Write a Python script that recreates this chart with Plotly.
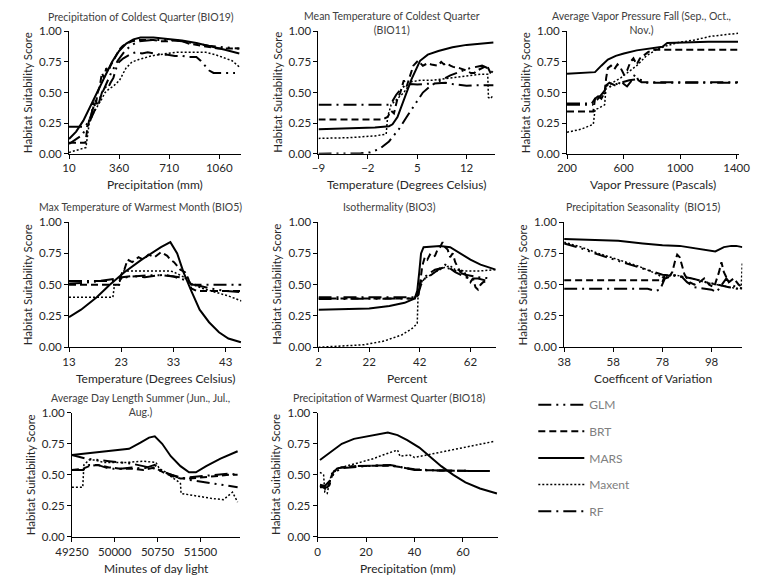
import plotly.graph_objects as go

# ---- data (habitat suitability response curves) ----
models = ["GLM", "BRT", "MARS", "Maxent", "RF"]

# Precipitation of Coldest Quarter (BIO19)
bio19_glm_x = [10, 100, 150, 200, 250, 300, 350, 400, 450, 500, 600, 700, 800, 900, 1000, 1100, 1200]
bio19_glm_y = [0.08, 0.15, 0.25, 0.38, 0.52, 0.65, 0.76, 0.84, 0.89, 0.92, 0.93, 0.93, 0.92, 0.90, 0.88, 0.87, 0.86]
bio19_brt_x = [10, 125, 135, 150, 165, 180, 195, 210, 225, 240, 255, 270, 285, 300, 320, 340, 360, 385, 410,
               450, 500, 550, 600, 650, 700, 750, 800, 850, 900, 950, 1000, 1050, 1100, 1150, 1200]
bio19_brt_y = [0.09, 0.09, 0.18, 0.27, 0.30, 0.42, 0.38, 0.50, 0.55, 0.66, 0.62, 0.70, 0.67, 0.72, 0.76, 0.80, 0.85,
               0.88, 0.90, 0.92, 0.93, 0.93, 0.93, 0.92, 0.92, 0.93, 0.92, 0.90, 0.89, 0.88, 0.87, 0.86, 0.86, 0.86, 0.86]
bio19_mars_x = [10, 60, 110, 160, 210, 260, 310, 360, 410, 460, 510, 600, 700, 800, 900, 1000, 1100, 1200]
bio19_mars_y = [0.12, 0.18, 0.27, 0.39, 0.52, 0.64, 0.75, 0.84, 0.90, 0.935, 0.95, 0.95, 0.94, 0.925, 0.905, 0.88, 0.85, 0.82]
bio19_maxent_x = [10, 70, 128, 140, 151, 180, 218, 240, 262, 290, 318, 363, 408, 450, 497, 586, 698, 765, 854, 899,
                  966, 1033, 1100, 1150, 1200]
bio19_maxent_y = [0.01, 0.03, 0.05, 0.15, 0.25, 0.33, 0.40, 0.45, 0.50, 0.53, 0.55, 0.60, 0.70, 0.75, 0.77, 0.80,
                  0.82, 0.83, 0.83, 0.83, 0.83, 0.81, 0.78, 0.76, 0.71]
bio19_rf_x = [10, 120, 140, 160, 180, 200, 220, 240, 260, 280, 300, 320, 340, 360, 390, 420, 450, 480, 520, 560,
              600, 650, 700, 750, 800, 850, 900, 930, 960, 990, 1020, 1060, 1100, 1170]
bio19_rf_y = [0.22, 0.22, 0.25, 0.30, 0.38, 0.45, 0.42, 0.50, 0.55, 0.53, 0.58, 0.62, 0.70, 0.75, 0.78, 0.80, 0.82,
              0.83, 0.82, 0.83, 0.82, 0.81, 0.81, 0.80, 0.80, 0.79, 0.79, 0.76, 0.72, 0.68, 0.66, 0.66, 0.66, 0.66]

# Mean Temperature of Coldest Quarter (BIO11)
bio11_glm_x = [-9, -5, -3, -1.7, -0.3, 1.0, 2.4, 3.5, 4.7, 5.8, 7.0, 8.3, 9.7, 11.0, 12.5, 14.2, 15.0, 15.8]
bio11_glm_y = [0.0, 0.0, 0.003, 0.01, 0.04, 0.10, 0.20, 0.30, 0.40, 0.50, 0.56, 0.60, 0.64, 0.67, 0.70, 0.72, 0.70, 0.66]
bio11_brt_x = [-9, 0.1, 0.8, 1.3, 1.7, 2.2, 2.6, 3.1, 3.5, 4.0, 4.45, 5.1, 5.8, 6.5, 7.0, 7.9, 8.4, 8.8, 9.2, 9.7,
               10.1, 11.0, 12.0, 12.6, 13.1, 13.5, 14.2, 14.9, 15.4, 15.8]
bio11_brt_y = [0.28, 0.28, 0.30, 0.35, 0.33, 0.45, 0.50, 0.60, 0.55, 0.65, 0.72, 0.76, 0.72, 0.74, 0.73, 0.72, 0.75,
               0.73, 0.74, 0.72, 0.71, 0.70, 0.68, 0.66, 0.66, 0.68, 0.70, 0.72, 0.66, 0.63]
bio11_mars_x = [-9, -5, -1, 1, 1.5, 2.2, 3.1, 4.2, 5.4, 6.5, 8, 10, 12, 14, 15.8]
bio11_mars_y = [0.20, 0.205, 0.215, 0.225, 0.24, 0.30, 0.44, 0.61, 0.76, 0.81, 0.84, 0.87, 0.89, 0.90, 0.91]
bio11_maxent_x = [-9, -5, -1, 0.6, 0.8, 1.3, 2.2, 3.1, 4.2, 5.5, 7.0, 8.5, 9.7, 11.0, 12.5, 14.0, 15.0, 15.1, 15.4, 15.8]
bio11_maxent_y = [0.125, 0.13, 0.145, 0.16, 0.30, 0.40, 0.45, 0.50, 0.59, 0.60, 0.60, 0.61, 0.62, 0.63, 0.64, 0.65,
                  0.65, 0.46, 0.45, 0.48]
bio11_rf_x = [-9, 1.0, 1.5, 2.0, 2.7, 3.3, 4.0, 5.0, 6.0, 7.0, 8.0, 9.0, 10.0, 11.0, 12.0, 13.0, 14.0, 15.8]
bio11_rf_y = [0.40, 0.40, 0.43, 0.48, 0.53, 0.56, 0.57, 0.565, 0.57, 0.575, 0.58, 0.58, 0.57, 0.56, 0.555, 0.56, 0.56, 0.56]

# Average Vapor Pressure Fall
vap_glm_x = [200, 380, 420, 470, 520, 580, 640, 700, 730, 760, 1410]
vap_glm_y = [0.40, 0.40, 0.45, 0.52, 0.56, 0.58, 0.60, 0.61, 0.60, 0.58, 0.58]
vap_brt_x = [200, 386, 398, 420, 443, 466, 477, 489, 511, 534, 557, 580, 602, 625, 648, 670, 693, 716, 739, 773, 807, 1410]
vap_brt_y = [0.345, 0.345, 0.45, 0.47, 0.45, 0.50, 0.62, 0.70, 0.72, 0.69, 0.73, 0.70, 0.65, 0.68, 0.75, 0.78, 0.73,
             0.78, 0.80, 0.83, 0.85, 0.85]
vap_mars_x = [200, 300, 398, 443, 489, 545, 602, 693, 784, 864, 875, 909, 1034, 1200, 1410]
vap_mars_y = [0.653, 0.66, 0.667, 0.72, 0.77, 0.80, 0.82, 0.845, 0.86, 0.87, 0.875, 0.905, 0.91, 0.915, 0.915]
vap_maxent_x = [200, 300, 386, 398, 420, 466, 477, 523, 580, 625, 693, 761, 830, 898, 989, 1102, 1216, 1330, 1410]
vap_maxent_y = [0.175, 0.20, 0.24, 0.36, 0.37, 0.40, 0.55, 0.58, 0.62, 0.66, 0.72, 0.80, 0.85, 0.88, 0.91, 0.93,
                0.96, 0.975, 0.985]
vap_rf_x = [200, 375, 398, 420, 455, 477, 500, 534, 557, 580, 602, 625, 659, 682, 705, 727, 1410]
vap_rf_y = [0.41, 0.41, 0.45, 0.47, 0.46, 0.56, 0.58, 0.56, 0.55, 0.60, 0.57, 0.55, 0.60, 0.65, 0.60, 0.585, 0.585]

# Max Temperature of Warmest Month (BIO5)
bio5_glm_x = [13, 16, 19, 22, 25, 28, 31, 33, 35, 37, 40, 43, 46]
bio5_glm_y = [0.51, 0.515, 0.53, 0.55, 0.565, 0.575, 0.575, 0.565, 0.54, 0.50, 0.47, 0.45, 0.44]
bio5_brt_x = [13, 22.6, 23.0, 23.6, 24.2, 25.1, 26.3, 27.2, 28.2, 29.4, 30.6, 31.8, 32.4, 33.1, 34.3, 35.2, 35.8,
              36.4, 37.4, 46]
bio5_brt_y = [0.50, 0.50, 0.58, 0.62, 0.70, 0.68, 0.72, 0.70, 0.74, 0.72, 0.76, 0.73, 0.70, 0.68, 0.62, 0.60, 0.55,
              0.47, 0.45, 0.45]
bio5_mars_x = [13, 15.3, 18.3, 20.8, 23.6, 26.9, 30.6, 32.4, 33.7, 34.9, 36.4, 38.0, 39.8, 41.7, 43.5, 45.9]
bio5_mars_y = [0.24, 0.30, 0.40, 0.50, 0.60, 0.70, 0.80, 0.84, 0.75, 0.60, 0.45, 0.30, 0.20, 0.12, 0.07, 0.04]
bio5_maxent_x = [13, 21.4, 21.7, 22.6, 23.2, 32.4, 33.1, 35.5, 36.7, 38.6, 41.0, 43.5, 46]
bio5_maxent_y = [0.40, 0.40, 0.50, 0.50, 0.61, 0.61, 0.60, 0.55, 0.50, 0.47, 0.44, 0.41, 0.37]
bio5_rf_x = [13, 22.6, 23.2, 25.1, 27.5, 30.0, 31.2, 32.4, 33.7, 35.5, 36.4, 46]
bio5_rf_y = [0.53, 0.53, 0.56, 0.57, 0.56, 0.57, 0.58, 0.57, 0.56, 0.55, 0.50, 0.50]

# Isothermality (BIO3)
bio3_glm_x = [2, 20, 40, 41.5, 43, 45, 48, 52, 56, 60, 65, 70]
bio3_glm_y = [0.385, 0.385, 0.39, 0.45, 0.54, 0.58, 0.62, 0.64, 0.61, 0.58, 0.56, 0.55]
bio3_brt_x = [2, 40, 41.5, 42, 43, 44, 45, 46, 47, 48, 49, 50, 51, 52, 53, 54, 55, 56, 57, 58, 59, 60, 61, 62, 63,
              64, 65, 66, 67, 68.7]
bio3_brt_y = [0.39, 0.39, 0.42, 0.50, 0.65, 0.72, 0.70, 0.74, 0.72, 0.73, 0.78, 0.80, 0.84, 0.80, 0.78, 0.72, 0.75,
              0.68, 0.64, 0.60, 0.62, 0.58, 0.55, 0.52, 0.55, 0.48, 0.46, 0.50, 0.52, 0.53]
bio3_mars_x = [2, 12, 22, 30, 36, 40, 41, 41.8, 42.5, 43.5, 50, 54, 58, 62, 66, 72]
bio3_mars_y = [0.30, 0.305, 0.31, 0.33, 0.355, 0.39, 0.45, 0.60, 0.75, 0.80, 0.81, 0.80, 0.75, 0.70, 0.66, 0.62]
bio3_maxent_x = [2, 10, 20, 28, 35, 39, 41, 41.3, 42, 44, 48, 52, 54, 56, 60, 66, 72]
bio3_maxent_y = [0.0, 0.01, 0.02, 0.05, 0.10, 0.15, 0.19, 0.40, 0.50, 0.55, 0.60, 0.64, 0.65, 0.62, 0.61, 0.61, 0.62]
bio3_rf_x = [2, 41, 42.5, 44, 46, 48, 50, 52, 54, 56, 58, 60, 62, 65, 68.7]
bio3_rf_y = [0.40, 0.40, 0.50, 0.55, 0.57, 0.60, 0.63, 0.66, 0.63, 0.60, 0.58, 0.56, 0.55, 0.55, 0.53]

# Precipitation Seasonality (BIO15)
bio15_glm_x = [38, 45, 52, 60, 68, 74, 78, 84, 90, 96, 100, 105, 110.5]
bio15_glm_y = [0.83, 0.79, 0.74, 0.69, 0.64, 0.60, 0.58, 0.57, 0.55, 0.52, 0.50, 0.48, 0.46]
bio15_brt_x = [38, 77, 78, 79, 81, 82, 83, 84, 85, 86, 87, 89, 91, 93, 95, 97, 99, 101, 102, 103, 105, 107, 109, 110.5]
bio15_brt_y = [0.535, 0.535, 0.52, 0.58, 0.57, 0.60, 0.68, 0.74, 0.72, 0.65, 0.58, 0.52, 0.50, 0.52, 0.55, 0.50,
               0.48, 0.60, 0.68, 0.60, 0.52, 0.55, 0.50, 0.48]
bio15_mars_x = [38, 50, 60, 70, 78, 85, 92, 97, 99.5, 101, 103, 106, 108, 110.5]
bio15_mars_y = [0.865, 0.86, 0.85, 0.83, 0.815, 0.81, 0.79, 0.775, 0.765, 0.78, 0.80, 0.81, 0.81, 0.80]
bio15_maxent_x = [38, 45, 52, 60, 68, 74, 78, 80, 82, 85, 90, 95, 100, 105, 108, 110, 110.5]
bio15_maxent_y = [0.84, 0.80, 0.75, 0.70, 0.65, 0.60, 0.56, 0.57, 0.58, 0.57, 0.55, 0.52, 0.50, 0.48, 0.47, 0.47, 0.68]
bio15_rf_x = [38, 72, 75, 77, 79, 82, 84, 86, 88, 91, 94, 98, 100, 102, 104, 106, 108, 110.5]
bio15_rf_y = [0.467, 0.467, 0.45, 0.46, 0.55, 0.57, 0.58, 0.56, 0.52, 0.48, 0.47, 0.46, 0.44, 0.50, 0.55, 0.50, 0.48, 0.47]

# Average Day Length Summer
day_glm_x = [49250, 49500, 49900, 50300, 50700, 51000, 51300, 51700, 52150]
day_glm_y = [0.66, 0.63, 0.61, 0.59, 0.55, 0.50, 0.46, 0.43, 0.40]
day_brt_x = [49250, 49450, 49550, 49700, 49900, 50100, 50300, 50500, 50700, 50850, 51000, 51150, 51300, 51500,
             51800, 52000, 52150]
day_brt_y = [0.54, 0.55, 0.57, 0.58, 0.56, 0.55, 0.55, 0.54, 0.56, 0.52, 0.49, 0.47, 0.47, 0.48, 0.49, 0.50, 0.50]
day_mars_x = [49250, 49700, 50100, 50250, 50450, 50600, 50700, 50830, 50980, 51150, 51300, 51420, 51600, 51850, 52150]
day_mars_y = [0.66, 0.68, 0.70, 0.71, 0.76, 0.80, 0.81, 0.75, 0.65, 0.57, 0.52, 0.52, 0.57, 0.63, 0.69]
day_maxent_x = [49250, 49440, 49460, 49550, 49650, 49800, 50200, 50500, 50720, 50780, 50900, 51000, 51100, 51150,
                51160, 51400, 51700, 51900, 52060, 52150]
day_maxent_y = [0.40, 0.40, 0.58, 0.62, 0.62, 0.60, 0.60, 0.61, 0.60, 0.55, 0.52, 0.48, 0.45, 0.43, 0.35, 0.33,
                0.31, 0.30, 0.36, 0.28]
day_rf_x = [49250, 49450, 49550, 49700, 49900, 50100, 50300, 50500, 50700, 50850, 51000, 51150, 51300, 51500,
            51800, 52000, 52150]
day_rf_y = [0.54, 0.54, 0.58, 0.58, 0.55, 0.55, 0.56, 0.55, 0.58, 0.52, 0.50, 0.47, 0.48, 0.49, 0.50, 0.51, 0.50]

# Precipitation of Warmest Quarter (BIO18)
bio18_glm_x = [1, 3, 5, 7, 10, 15, 20, 25, 30, 35, 40, 50, 60, 71]
bio18_glm_y = [0.42, 0.41, 0.45, 0.52, 0.555, 0.565, 0.57, 0.575, 0.575, 0.56, 0.545, 0.535, 0.535, 0.53]
bio18_brt_x = [1, 2.5, 3.5, 4.5, 5.5, 6.5, 8, 10, 15, 20, 25, 30, 35, 40, 50, 60, 71]
bio18_brt_y = [0.41, 0.40, 0.38, 0.41, 0.48, 0.52, 0.55, 0.56, 0.57, 0.57, 0.57, 0.575, 0.56, 0.54, 0.535, 0.535, 0.53]
bio18_mars_x = [1, 5, 10, 15, 20, 25, 29, 33, 37, 42, 46, 51, 56, 61, 67, 74]
bio18_mars_y = [0.62, 0.68, 0.75, 0.79, 0.81, 0.83, 0.84, 0.82, 0.78, 0.72, 0.65, 0.57, 0.50, 0.44, 0.39, 0.35]
bio18_maxent_x = [1, 2.5, 3, 4, 5, 6, 8, 12, 18, 23, 27, 30, 33, 34, 38, 40, 45, 52, 60, 67, 73]
bio18_maxent_y = [0.52, 0.50, 0.36, 0.35, 0.45, 0.52, 0.55, 0.57, 0.60, 0.63, 0.66, 0.68, 0.70, 0.65, 0.66, 0.64,
                  0.66, 0.69, 0.72, 0.75, 0.77]
bio18_rf_x = [1, 4, 5, 6, 8, 10, 15, 20, 25, 30, 35, 40, 50, 60, 71]
bio18_rf_y = [0.40, 0.40, 0.42, 0.50, 0.55, 0.56, 0.57, 0.57, 0.575, 0.58, 0.56, 0.54, 0.535, 0.535, 0.53]

y_ticks = [0, 0.25, 0.5, 0.75, 1.0]

# panel: title lines, x title, x range, tick start/step, data
panels = [
    (["Precipitation of Coldest Quarter (BIO19)"], "Precipitation (mm)", (10, 1215), 10, 350,
     [(bio19_glm_x, bio19_glm_y), (bio19_brt_x, bio19_brt_y), (bio19_mars_x, bio19_mars_y),
      (bio19_maxent_x, bio19_maxent_y), (bio19_rf_x, bio19_rf_y)]),
    (["Mean Temperature of Coldest Quarter", "(BIO11)"], "Temperature (Degrees Celsius)", (-9, 16), -9, 7,
     [(bio11_glm_x, bio11_glm_y), (bio11_brt_x, bio11_brt_y), (bio11_mars_x, bio11_mars_y),
      (bio11_maxent_x, bio11_maxent_y), (bio11_rf_x, bio11_rf_y)]),
    (["Average Vapor Pressure Fall (Sep., Oct.,", "Nov.)"], "Vapor Pressure (Pascals)", (200, 1420), 200, 400,
     [(vap_glm_x, vap_glm_y), (vap_brt_x, vap_brt_y), (vap_mars_x, vap_mars_y),
      (vap_maxent_x, vap_maxent_y), (vap_rf_x, vap_rf_y)]),
    (["Max Temperature of Warmest Month (BIO5)"], "Temperature (Degrees Celsius)", (13, 46), 13, 10,
     [(bio5_glm_x, bio5_glm_y), (bio5_brt_x, bio5_brt_y), (bio5_mars_x, bio5_mars_y),
      (bio5_maxent_x, bio5_maxent_y), (bio5_rf_x, bio5_rf_y)]),
    (["Isothermality (BIO3)"], "Percent", (2, 72), 2, 20,
     [(bio3_glm_x, bio3_glm_y), (bio3_brt_x, bio3_brt_y), (bio3_mars_x, bio3_mars_y),
      (bio3_maxent_x, bio3_maxent_y), (bio3_rf_x, bio3_rf_y)]),
    (["Precipitation Seasonality  (BIO15)"], "Coefficent of Variation", (38, 110.5), 38, 20,
     [(bio15_glm_x, bio15_glm_y), (bio15_brt_x, bio15_brt_y), (bio15_mars_x, bio15_mars_y),
      (bio15_maxent_x, bio15_maxent_y), (bio15_rf_x, bio15_rf_y)]),
    (["Average Day Length Summer (Jun., Jul.,", "Aug.)"], "Minutes of day light", (49250, 52200), 49250, 750,
     [(day_glm_x, day_glm_y), (day_brt_x, day_brt_y), (day_mars_x, day_mars_y),
      (day_maxent_x, day_maxent_y), (day_rf_x, day_rf_y)]),
    (["Precipitation of Warmest Quarter (BIO18)"], "Precipitation (mm)", (0, 74.3), 0, 20,
     [(bio18_glm_x, bio18_glm_y), (bio18_brt_x, bio18_brt_y), (bio18_mars_x, bio18_mars_y),
      (bio18_maxent_x, bio18_maxent_y), (bio18_rf_x, bio18_rf_y)]),
]

W, H = 762, 584
FONT = "Lato"

# plot-area boxes in pixels (left, right, top, bottom)
boxes = [(54, 233, 25, 150), (313, 496, 25, 150), (571, 750, 25, 150),
         (54, 233, 220, 348), (313, 497, 220, 348), (568, 753, 220, 348),
         (57, 232, 415, 542), (312, 499, 415, 542)]
# title centre (x, y) in pixels
title_pos = [(129, 10), (389, 16), (648, 16), (128, 205), (387, 205), (650, 205), (128, 407), (386, 400)]

line_styles = {
    "GLM": dict(dash="13px,5px,2px,5px,2px,5px", width=2),
    "BRT": dict(dash="7px,4px", width=2),
    "MARS": dict(dash="solid", width=2),
    "Maxent": dict(dash="2px,2px", width=1.5),
    "RF": dict(dash="13px,5px,2px,5px", width=2),
}

fig = go.Figure()
annotations = []
layout = {}

for i, (titles, xtitle, xrange, tick0, dtick, series) in enumerate(panels):
    n = "" if i == 0 else str(i + 1)
    l, r, t, b = boxes[i]
    layout["xaxis" + n] = dict(domain=[l / W, r / W], range=list(xrange), anchor="y" + n,
                               tick0=tick0, dtick=dtick, tickmode="linear", tickformat="d",
                               showline=True, linecolor="#000000", linewidth=1, mirror=False,
                               ticks="outside", ticklen=4, tickcolor="#000000",
                               showgrid=False, zeroline=False,
                               tickfont=dict(family=FONT, size=11.5, color="#262626"))
    layout["yaxis" + n] = dict(domain=[1 - b / H, 1 - t / H], range=[0, 1], anchor="x" + n,
                               tickvals=y_ticks, tickformat=".2f",
                               showline=True, linecolor="#000000", linewidth=1,
                               ticks="outside", ticklen=4, tickcolor="#000000",
                               showgrid=False, zeroline=False,
                               tickfont=dict(family=FONT, size=11.5, color="#262626"))
    for m, (xs, ys) in zip(models, series):
        fig.add_trace(go.Scatter(x=xs, y=ys, mode="lines", name=m,
                                 xaxis="x" + n, yaxis="y" + n,
                                 line=dict(color="#000000", **line_styles[m]),
                                 legendgroup=m, showlegend=(i == 0)))
    tx, ty = title_pos[i]
    annotations.append(dict(text="<br>".join(titles), x=tx / W, y=1 - ty / H,
                            xref="paper", yref="paper", xanchor="center", yanchor="middle",
                            showarrow=False, font=dict(family=FONT, size=10.5, color="#404040")))
    annotations.append(dict(text=xtitle, x=(l + r) / 2 / W, y=1 - (b + 32) / H,
                            xref="paper", yref="paper", xanchor="center", yanchor="middle",
                            showarrow=False, font=dict(family=FONT, size=12, color="#262626")))
    annotations.append(dict(text="Habitat Suitability Score", x=(l - 43) / W, y=1 - (t + b) / 2 / H,
                            xref="paper", yref="paper", xanchor="center", yanchor="middle",
                            textangle=-90, showarrow=False,
                            font=dict(family=FONT, size=11.5, color="#262626")))

fig.update_layout(
    width=W, height=H,
    margin=dict(l=0, r=0, t=0, b=0),
    plot_bgcolor="white", paper_bgcolor="white",
    annotations=annotations,
    showlegend=True,
    legend=dict(x=536 / W, y=1 - 392 / H, xanchor="left", yanchor="top",
                tracegroupgap=7.6, itemwidth=46,
                font=dict(family=FONT, size=12, color="#808080"),
                bgcolor="rgba(0,0,0,0)"),
    **layout,
)

# drop the browser's default body margin so the figure sits at the page origin
fig.write_html("out.html", config={"displayModeBar": False},
               post_script="document.body.style.margin='0';")
